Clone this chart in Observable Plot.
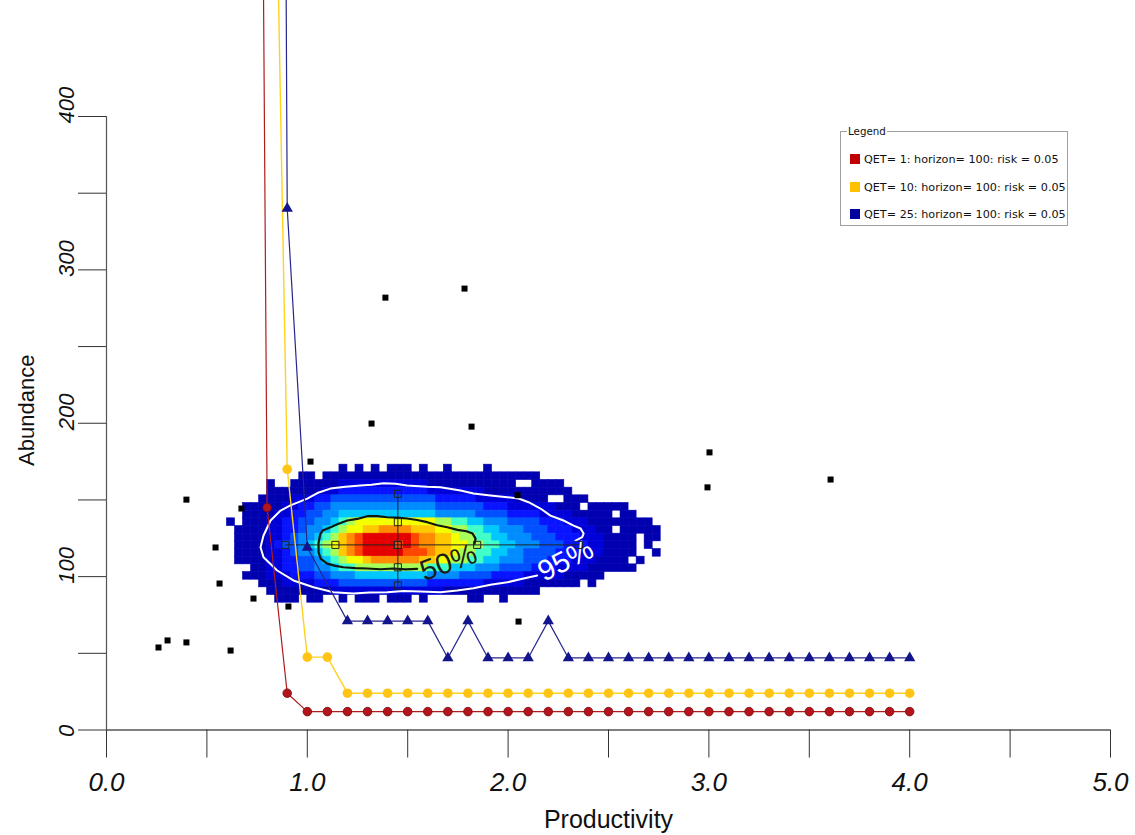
<!DOCTYPE html>
<html>
<head>
<meta charset="utf-8">
<script src="https://cdn.jsdelivr.net/npm/d3@7"></script>
<script src="https://cdn.jsdelivr.net/npm/@observablehq/plot@0.6"></script>
<style>
  html, body { margin: 0; padding: 0; background: #fff; }
  #wrap { position: relative; width: 1135px; height: 835px; overflow: hidden; }
  #legend { position: absolute; left: 840px; top: 131px; width: 226px; height: 93px;
            border: 1px solid #a0a0a0; font-family: "DejaVu Sans", sans-serif; color: #111; }
  #legend .title { position: absolute; left: 6px; top: -7px; background: #fff; padding: 0 1px;
            font-size: 10.3px; line-height: 12px; }
  #legend .item { position: absolute; left: 9px; height: 12px; font-size: 11.2px; line-height: 12px; white-space: nowrap; }
  #legend .sw { display: inline-block; width: 10px; height: 10px; vertical-align: -1px; margin-right: 4px; }
</style>
</head>
<body>
<div id="wrap"></div>
<script>
// ---------- data ----------
const qetProductivity = [0.7,0.8,0.9,1.0,1.1,1.2,1.3,1.4,1.5,1.6,1.7,1.8,1.9,2.0,2.1,2.2,2.3,2.4,2.5,2.6,2.7,2.8,2.9,3.0,3.1,3.2,3.3,3.4,3.5,3.6,3.7,3.8,3.9,4.0];
const qet1Abundance  = [2000,145,24,12,12,12,12,12,12,12,12,12,12,12,12,12,12,12,12,12,12,12,12,12,12,12,12,12,12,12,12,12,12,12];
const qet10Abundance = [null,880,170,47.5,47.5,24,24,24,24,24,24,24,24,24,24,24,24,24,24,24,24,24,24,24,24,24,24,24,24,24,24,24,24,24];
const qet25Abundance = [null,3000,340,119,null,71,71,71,71,71,47,71,47,47,47,71,47,47,47,47,47,47,47,47,47,47,47,47,47,47,47,47,47,47];
const seriesNames = ["QET= 1: horizon= 100: risk = 0.05", "QET= 10: horizon= 100: risk = 0.05", "QET= 25: horizon= 100: risk = 0.05"];

// observed (productivity, abundance) estimates outside the density
const obsProductivity = [1.389,1.783,1.320,1.818,1.016,0.398,3.003,2.993,3.606,0.543,0.563,0.732,0.906,0.618,0.259,0.304,0.398,2.052,0.672,2.047];
const obsAbundance    = [281.9,287.8,199.8,197.8,175.0,150.2,181.0,158.2,163.3,119.0,95.5,85.7,80.5,51.8,53.8,58.4,57.1,70.7,144.4,153.1];

// 2-D density histogram: columns of 0.04 productivity from 0.60, rows of 5 abundance from 173 down
const heatX0 = 0.60, heatDX = 0.04, heatYTop = 173, heatDY = 5;
const heatRows = [
  "..........|....1.1.1.|111.1..1..|..1.......|..........|....",
  ".........1|1.11111111|1111111111|111111111.|..........|....",
  ".....1..11|1111222222|2222211111|111111..11|11........|....",
  ".....11111|1122333333|3333322222|2211111111|111.......|....",
  "....111122|2334444444|4444443333|3222221111|..111.....|....",
  "..11111223|3445555555|5555554444|4433322222|2111.11111|....",
  "..11112233|4455666666|6666665555|5444433332|22211111.1|1...",
  "1.11122334|4556789999|9999998877|6655544443|3322211111|111.",
  ".111122334|5567899aab|bbbaaa9988|7766555444|33322211.1|1111",
  ".111122345|5678abcddd|dddcbbaa98|8776655544|4333222111|1.11",
  ".111123445|6789abcddd|dcdcbbaa99|8877665554|4433322111|1.1.",
  ".111122345|5678abcddd|ddcccbaa98|8776655444|4333222111|1..1",
  ".111122334|4567899abb|bbbbaa9988|7766555444|3332221111|.1..",
  "...1122334|4556778888|8888877766|6555444433|3222211111|1...",
  "..11122233|3445556666|6666655554|4443333222|2211111...|....",
  "....111222|2333444444|4444433333|3322222111|1111.1....|....",
  ".....11111|1112222222|2222222111|111111111.|..........|....",
  "......111.|11..1.111.|111.1.....|11..1.....|..........|...."
];
const heatLevels = ["1","2","3","4","5","6","7","8","9","a","b","c","d"];
const heatColors = ["#0000b0","#0000d8","#0814ff","#0050ff","#008cff","#00c8ff","#40ffc8","#a8ff58","#f4ff00","#ffc800","#ff8c00","#ff4600","#e40000"];

// contour lines (productivity, abundance)
const contour95 = [[2.336,123.5],[2.369,125.7],[2.376,128.1],[2.361,131.4],[2.326,133.3],[2.276,136.6],[2.211,139.8],[2.161,144.4],[2.102,148.5],[2.052,150.9],[1.996,151.8],[1.912,152.9],[1.828,154.2],[1.763,156.1],[1.663,158.3],[1.597,158.6],[1.497,159.4],[1.44,160.6],[1.38,160.9],[1.32,159.9],[1.265,159.4],[1.19,158.6],[1.115,157.4],[1.05,154.5],[1.0,150.9],[0.916,146.5],[0.867,143.1],[0.817,136.6],[0.782,126.8],[0.767,119.2],[0.782,112.6],[0.85,104],[0.931,97.5],[1.031,93.1],[1.13,89.8],[1.23,89.0],[1.31,89.6],[1.398,89.8],[1.48,90.6],[1.564,90.3],[1.663,89.8],[1.746,90.9],[1.828,92.4],[1.912,94.7],[1.996,96.3],[2.077,98.8],[2.145,100.7]];
const contour50 = [[1.833,121.5],[1.838,124.8],[1.823,128.1],[1.793,129.6],[1.748,130.5],[1.697,132.2],[1.647,133.5],[1.597,135.5],[1.547,136.9],[1.497,137.9],[1.447,138.5],[1.398,138.7],[1.348,139.5],[1.298,139.4],[1.249,137.6],[1.199,136.6],[1.149,134.2],[1.116,132.2],[1.076,130.1],[1.064,127.5],[1.056,122],[1.056,116],[1.066,111.8],[1.099,108.5],[1.14,107],[1.18,106.1],[1.24,105.6],[1.298,105.3],[1.365,104.8],[1.429,105.3],[1.49,104.7],[1.547,105.1]];
const contourLabels = [{x: 1.703, y: 109.2, label: "50%", rotate: -20, color: "#1a1f1a"}, {x: 2.286, y: 110.5, label: "95%", rotate: -27, color: "#ffffff"}];

// quantile cross
const crossProductivity = [0.891, 1.14, 1.451, 1.846, 2.352];
const crossProductivityAt = 120.7;
const crossAbundance = [94.2, 106.1, 120.7, 135.5, 154.0];
const crossAbundanceAt = 1.451;

// axes
const xTickValues = [0,0.5,1,1.5,2,2.5,3,3.5,4,4.5,5];
const xLabelValues = [0,1,2,3,4,5];
const yTickValues = [0,50,100,150,200,250,300,350,400];
const yLabelValues = [0,100,200,300,400];

// ---------- build ----------
const heatCells = [];
heatRows.forEach((row, r) => {
  [...row.replace(/\|/g, "")].forEach((ch, c) => {
    if (ch === ".") return;
    heatCells.push({x1: heatX0 + c * heatDX, x2: heatX0 + (c + 1) * heatDX,
                    y1: heatYTop - (r + 1) * heatDY, y2: heatYTop - r * heatDY, level: ch});
  });
});
const mk = (vals) => qetProductivity.map((x, i) => ({x, y: vals[i]})).filter(d => d.y != null);
const red = mk(qet1Abundance), yellow = mk(qet10Abundance), blue = mk(qet25Abundance);
const obs = obsProductivity.map((x, i) => ({x, y: obsAbundance[i]}));
const crossH = crossProductivity.map(x => ({x, y: crossProductivityAt}));
const crossV = crossAbundance.map(y => ({x: crossAbundanceAt, y}));
const crossPts = [...crossH, ...crossV];

const font = "'Liberation Sans', Arial, sans-serif";
const chart = Plot.plot({
  width: 1135, height: 835,
  marginLeft: 106, marginRight: 25, marginTop: 116, marginBottom: 105.5,
  style: {fontFamily: font, background: "#fff", overflow: "hidden"},
  x: {domain: [0, 5], axis: null},
  y: {domain: [0, 400], axis: null},
  color: {type: "ordinal", domain: heatLevels, range: heatColors},
  marks: [
    Plot.rect(heatCells, {x1: "x1", x2: "x2", y1: "y1", y2: "y2", fill: "level", stroke: "level", strokeWidth: 0.6}),
    Plot.line(contour95, {x: d => d[0], y: d => d[1], stroke: "#ffffff", strokeWidth: 2}),
    Plot.line(contour50, {x: d => d[0], y: d => d[1], stroke: "#101810", strokeWidth: 2.2}),
    Plot.text(contourLabels, {x: "x", y: "y", text: "label", rotate: "rotate", fill: "color", fontSize: 29}),
    Plot.line(crossH, {x: "x", y: "y", stroke: "#222", strokeWidth: 1}),
    Plot.line(crossV, {x: "x", y: "y", stroke: "#222", strokeWidth: 1}),
    Plot.dot(crossPts, {x: "x", y: "y", symbol: "square", r: 4, stroke: "#222", strokeWidth: 1, fill: "none"}),
    Plot.dot(obs, {x: "x", y: "y", symbol: "square", r: 3.4, fill: "#000"}),
    Plot.line(red, {x: "x", y: "y", stroke: "#b01c1c", strokeWidth: 1.2}),
    Plot.line(yellow, {x: "x", y: "y", stroke: "#ffd21e", strokeWidth: 1.4}),
    Plot.line(blue, {x: "x", y: "y", stroke: "#26268c", strokeWidth: 1.2}),
    Plot.dot(red, {x: "x", y: "y", r: 4.3, fill: "#b4141e", stroke: "#7a0a0a", strokeWidth: 0.8}),
    Plot.dot(yellow, {x: "x", y: "y", r: 4.8, fill: "#ffc414"}),
    Plot.dot(blue, {x: "x", y: "y", symbol: "triangle", r: 4.2, fill: "#14148c"}),
    // axes
    Plot.ruleY([0], {stroke: "#000", strokeWidth: 1.2}),
    Plot.ruleX([0], {stroke: "#555", strokeWidth: 1.2}),
    Plot.axisX(xTickValues, {tickSize: 28, tickFormat: () => "", stroke: "#333"}),
    Plot.axisX(xLabelValues, {tickSize: 0, tickPadding: 43, tickFormat: d => d.toFixed(1), fontSize: 26, fontStyle: "italic", fill: "#111"}),
    Plot.axisY(yTickValues, {tickSize: 28, tickFormat: () => "", stroke: "#333"}),
    Plot.axisY(yLabelValues, {tickSize: 0, tickPadding: 33, tickRotate: -90, textAnchor: "start", lineAnchor: "bottom", dy: 7, tickFormat: d => String(d), fontSize: 22, fontStyle: "italic", fill: "#111"}),
    Plot.text(["Abundance"], {text: d => d, frameAnchor: "left", textAnchor: "middle", lineAnchor: "middle", rotate: -90, dx: -80, dy: -13, fontSize: 22, fill: "#111"}),
    Plot.text(["Productivity"], {text: d => d, frameAnchor: "bottom", textAnchor: "middle", lineAnchor: "middle", dy: 90, fontSize: 25, fill: "#111"})
  ]
});
const wrap = document.getElementById("wrap");
wrap.appendChild(chart);

// legend
const legendColors = ["#c00000", "#ffc000", "#0000a0"];
const legendTops = [22, 50, 77];
const lg = document.createElement("div");
lg.id = "legend";
lg.innerHTML = `<div class="title">Legend</div>` + seriesNames.map((n, i) =>
  `<div class="item" style="top:${legendTops[i]}px"><span class="sw" style="background:${legendColors[i]}"></span>${n}</div>`).join("");
wrap.appendChild(lg);
</script>
</body>
</html>
